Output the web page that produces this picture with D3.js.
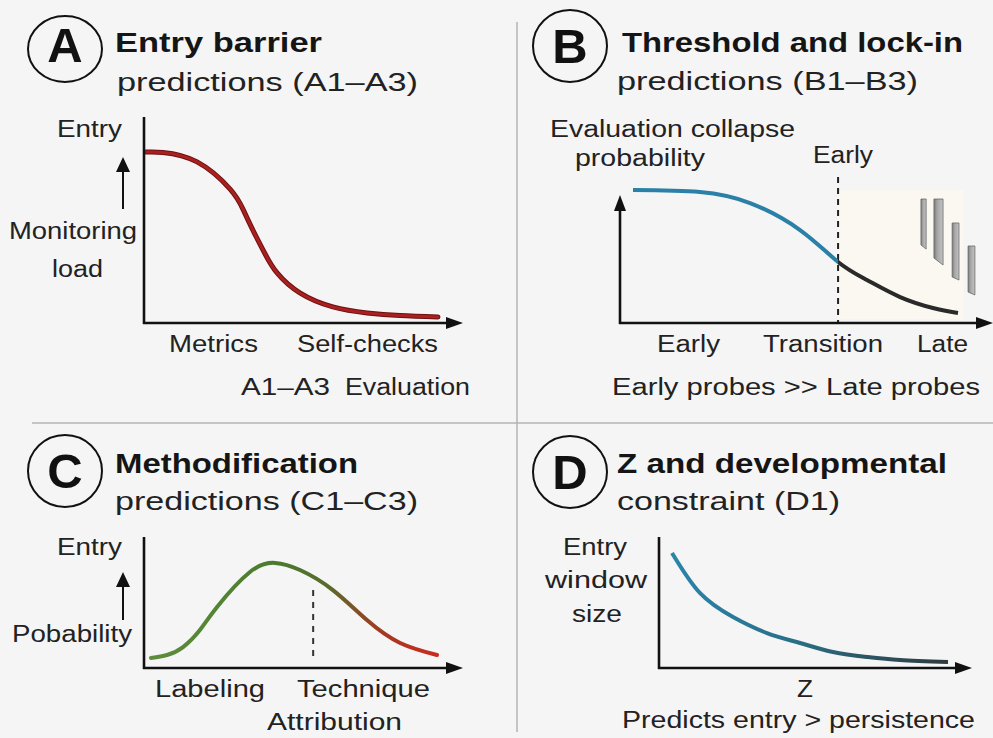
<!DOCTYPE html>
<html><head><meta charset="utf-8">
<script src="https://cdn.jsdelivr.net/npm/d3@7"></script>
<style>html,body{margin:0;padding:0;background:#f5f5f5;}svg{display:block;}</style>
</head><body>
<script>
// ---------- DATA ----------
// Panel A: entry barrier (monitoring load vs evaluation)
const aX = [0, 0.058, 0.175, 0.288, 0.332, 0.366, 0.408, 0.449, 0.527, 0.64, 0.757, 0.87, 1];
const aY = [0.83, 0.828, 0.782, 0.65, 0.553, 0.451, 0.335, 0.243, 0.146, 0.078, 0.049, 0.036, 0.029];
const aTicks = ["Metrics", "Self-checks"];
// Panel B: evaluation collapse probability
const bX = [0, 0.206, 0.36, 0.514, 0.631, 0.72, 0.822, 0.923, 1];
const bY = [1.0, 0.985, 0.902, 0.699, 0.459, 0.323, 0.195, 0.113, 0.075];
const bThreshold = 0.631;
const bTicks = ["Early", "Transition", "Late"];
const probeX0 = [0.886, 0.926, 0.982, 1.031];
const probeX1 = [0.902, 0.954, 1.003, 1.052];
const probeTop = [0.932, 0.932, 0.752, 0.579];
const probeBottomL = [0.587, 0.489, 0.346, 0.233];
const probeBottomR = [0.556, 0.436, 0.323, 0.211];
// Panel C: entry probability (methodification)
const cX = [0, 0.056, 0.112, 0.171, 0.231, 0.346, 0.434, 0.521, 0.636, 0.755, 0.871, 1];
const cY = [0.076, 0.099, 0.16, 0.29, 0.466, 0.733, 0.802, 0.748, 0.595, 0.366, 0.191, 0.099];
const cMarker = 0.567;
const cTicks = ["Labeling", "Technique"];
// Panel D: entry window size vs Z
const dX = [0, 0.101, 0.221, 0.344, 0.464, 0.583, 0.707, 0.826, 1];
const dY = [0.878, 0.573, 0.389, 0.267, 0.191, 0.122, 0.084, 0.061, 0.046];

// ---------- DRAWING ----------
const W = 993, H = 738;
const FONT = "'Liberation Sans', Arial, Helvetica, sans-serif";
const svg = d3.select("body").append("svg").attr("width", W).attr("height", H);
svg.append("rect").attr("width", W).attr("height", H).attr("fill", "#f5f5f5");
const defs = svg.append("defs");

function label(g, text, x, y, size, width, weight) {
  const t = g.append("text").attr("x", x).attr("y", y)
    .attr("font-family", FONT).attr("font-size", size)
    .attr("font-weight", weight || "normal")
    .attr("fill", weight === "bold" ? "#151515" : "#222")
    .text(text);
  if (width) t.attr("textLength", width).attr("lengthAdjust", "spacingAndGlyphs");
  return t;
}
function badge(cx, cy, letter, baseline, rx, ry) {
  svg.append("ellipse").attr("cx", cx).attr("cy", cy).attr("rx", rx).attr("ry", ry)
    .attr("fill", "none").attr("stroke", "#111").attr("stroke-width", 2);
  svg.append("text").attr("x", cx).attr("y", baseline).attr("text-anchor", "middle")
    .attr("font-family", FONT).attr("font-weight", "bold").attr("font-size", 49)
    .attr("fill", "#111").text(letter);
}
function axes(x0, y0, yTop, xTip, yArrow) {
  const g = svg.append("g");
  g.append("line").attr("x1", x0).attr("y1", y0 + 1).attr("x2", x0).attr("y2", yArrow ? yTop + 10 : yTop)
    .attr("stroke", "#111").attr("stroke-width", 2.6);
  g.append("line").attr("x1", x0 - 1).attr("y1", y0).attr("x2", xTip - 12).attr("y2", y0)
    .attr("stroke", "#111").attr("stroke-width", 2.6);
  g.append("path").attr("d", `M${xTip},${y0} L${xTip - 17},${y0 - 6} L${xTip - 17},${y0 + 6} Z`).attr("fill", "#111");
  if (yArrow) g.append("path").attr("d", `M${x0},${yTop} L${x0 - 6},${yTop + 16} L${x0 + 6},${yTop + 16} Z`).attr("fill", "#111");
}
function upArrow(x, yBottom, yTip) {
  svg.append("line").attr("x1", x).attr("y1", yBottom).attr("x2", x).attr("y2", yTip + 10)
    .attr("stroke", "#111").attr("stroke-width", 2);
  svg.append("path").attr("d", `M${x},${yTip} L${x - 7},${yTip + 15} L${x + 7},${yTip + 15} Z`).attr("fill", "#111");
}
function grad(id, x1, x2, stops) {
  const lg = defs.append("linearGradient").attr("id", id).attr("gradientUnits", "userSpaceOnUse")
    .attr("x1", x1).attr("x2", x2).attr("y1", 0).attr("y2", 0);
  stops.forEach(s => lg.append("stop").attr("offset", s[0]).attr("stop-color", s[1]));
}
const zip = (xs, ys) => xs.map((x, i) => [x, ys[i]]);
const smooth = d3.curveNatural;

// dividers
svg.append("line").attr("x1", 517).attr("y1", 22).attr("x2", 517).attr("y2", 732)
  .attr("stroke", "#b3b3b3").attr("stroke-width", 1.5);
svg.append("line").attr("x1", 32).attr("y1", 423).attr("x2", 993).attr("y2", 423)
  .attr("stroke", "#b3b3b3").attr("stroke-width", 1.5);

// ===== Panel A =====
{
  const g = svg.append("g");
  badge(65, 49, "A", 62, 37, 33);
  label(g, "Entry barrier", 115, 52, 27, 207, "bold");
  label(g, "predictions (A1–A3)", 117, 91, 26, 301);
  label(g, "Entry", 57, 137, 23, 65);
  label(g, "Monitoring", 9, 239, 23, 128);
  label(g, "load", 52, 277, 23, 51);
  upArrow(123, 209, 157);
  axes(144, 323, 117, 463, false);
  const x = d3.scaleLinear().domain([0, 1]).range([146, 438]);
  const y = d3.scaleLinear().domain([0, 1]).range([323, 117]);
  const line = d3.line().x(d => x(d[0])).y(d => y(d[1])).curve(smooth);
  g.append("path").attr("d", line(zip(aX, aY))).attr("fill", "none")
    .attr("stroke", "#6e1010").attr("stroke-width", 5).attr("stroke-linecap", "round");
  g.append("path").attr("d", line(zip(aX, aY))).attr("fill", "none")
    .attr("stroke", "#a82020").attr("stroke-width", 3).attr("stroke-linecap", "round");
  const tickPos = [[169, 89], [297, 141]];
  aTicks.forEach((t, i) => label(g, t, tickPos[i][0], 352, 23, tickPos[i][1]));
  label(g, "A1–A3", 241, 395, 23, 89);
  label(g, "Evaluation", 345, 395, 23, 125);
}

// ===== Panel B =====
{
  const g = svg.append("g");
  badge(570, 46, "B", 63, 37, 36);
  label(g, "Threshold and lock-in", 622, 52, 27, 341, "bold");
  label(g, "predictions (B1–B3)", 617, 90, 26, 301);
  label(g, "Evaluation collapse", 550, 137, 23, 245);
  label(g, "probability", 575, 166, 23, 130);
  const x = d3.scaleLinear().domain([0, 1]).range([633, 958]);
  const y = d3.scaleLinear().domain([0, 1]).range([323, 190]);
  // shaded late region
  g.append("rect").attr("x", x(bThreshold)).attr("y", y(1)).attr("width", 963 - x(bThreshold))
    .attr("height", y(0) - y(1) - 4).attr("fill", "#fbf7f1");
  // probe bars
  const pg = defs.append("linearGradient").attr("id", "probeGrad");
  pg.append("stop").attr("offset", 0).attr("stop-color", "#777");
  pg.append("stop").attr("offset", 0.35).attr("stop-color", "#a5a5a5");
  pg.append("stop").attr("offset", 1).attr("stop-color", "#c4c4c4");
  probeX0.forEach((_, i) => {
    g.append("path").attr("d",
      `M${x(probeX0[i])},${y(probeTop[i])} L${x(probeX1[i])},${y(probeTop[i])} ` +
      `L${x(probeX1[i])},${y(probeBottomR[i])} L${x(probeX0[i])},${y(probeBottomL[i])} Z`)
      .attr("fill", "url(#probeGrad)").attr("stroke", "#6a6a6a").attr("stroke-width", 0.8);
  });
  axes(620, 323, 195, 993, true);
  // threshold dashed line
  g.append("line").attr("x1", x(bThreshold)).attr("x2", x(bThreshold)).attr("y1", 177).attr("y2", 322)
    .attr("stroke", "#222").attr("stroke-width", 2).attr("stroke-dasharray", "6,5");
  label(g, "Early", 813, 163, 23, 60);
  grad("bGrad", x(0), x(1), [[0, "#2a80a6"], [(bThreshold), "#2a80a6"], [(bThreshold + 0.001), "#2a2a2a"], [1, "#2a2a2a"]]);
  const line = d3.line().x(d => x(d[0])).y(d => y(d[1])).curve(smooth);
  g.append("path").attr("d", line(zip(bX, bY))).attr("fill", "none")
    .attr("stroke", "url(#bGrad)").attr("stroke-width", 4).attr("stroke-linecap", "butt");
  const tickPos = [[657, 63], [763, 120], [917, 51]];
  bTicks.forEach((t, i) => label(g, t, tickPos[i][0], 352, 23, tickPos[i][1]));
  label(g, "Early probes >> Late probes", 612, 395, 23, 368);
}

// ===== Panel C =====
{
  const g = svg.append("g");
  badge(65, 471, "C", 488, 37, 36);
  label(g, "Methodification", 115, 473, 27, 243, "bold");
  label(g, "predictions (C1–C3)", 115, 510, 26, 303);
  label(g, "Entry", 57, 555, 23, 65);
  label(g, "Pobability", 12, 642, 23, 120);
  upArrow(123, 620, 572);
  axes(144, 668, 537, 463, false);
  const x = d3.scaleLinear().domain([0, 1]).range([151, 437]);
  const y = d3.scaleLinear().domain([0, 1]).range([668, 537]);
  g.append("line").attr("x1", x(cMarker)).attr("x2", x(cMarker)).attr("y1", 590).attr("y2", 660)
    .attr("stroke", "#333").attr("stroke-width", 2).attr("stroke-dasharray", "6,6");
  grad("cGrad", x(0), x(1), [[0, "#5e8d3c"], [0.45, "#4a7a2e"], [0.62, "#5a6a2a"], [0.8, "#a23a22"], [1, "#cc2a1e"]]);
  const line = d3.line().x(d => x(d[0])).y(d => y(d[1])).curve(smooth);
  g.append("path").attr("d", line(zip(cX, cY))).attr("fill", "none")
    .attr("stroke", "url(#cGrad)").attr("stroke-width", 4).attr("stroke-linecap", "round");
  const tickPos = [[155, 110], [297, 133]];
  cTicks.forEach((t, i) => label(g, t, tickPos[i][0], 697, 23, tickPos[i][1]));
  label(g, "Attribution", 267, 730, 23, 135);
}

// ===== Panel D =====
{
  const g = svg.append("g");
  badge(570, 472, "D", 489, 37, 36);
  label(g, "Z and developmental", 617, 473, 27, 330, "bold");
  label(g, "constraint (D1)", 617, 510, 26, 223);
  label(g, "Entry", 563, 555, 23, 64);
  label(g, "window", 545, 588, 23, 102);
  label(g, "size", 572, 622, 23, 50);
  axes(659, 668, 537, 972, false);
  const x = d3.scaleLinear().domain([0, 1]).range([672, 948]);
  const y = d3.scaleLinear().domain([0, 1]).range([668, 537]);
  grad("dGrad", x(0), x(1), [[0, "#2a84ab"], [0.45, "#2a6e86"], [1, "#2e3a3e"]]);
  const line = d3.line().x(d => x(d[0])).y(d => y(d[1])).curve(smooth);
  g.append("path").attr("d", line(zip(dX, dY))).attr("fill", "none")
    .attr("stroke", "url(#dGrad)").attr("stroke-width", 4).attr("stroke-linecap", "butt");
  label(g, "Z", 797, 697, 23, 16);
  label(g, "Predicts entry > persistence", 622, 728, 23, 353);
}
</script>
</body></html>
